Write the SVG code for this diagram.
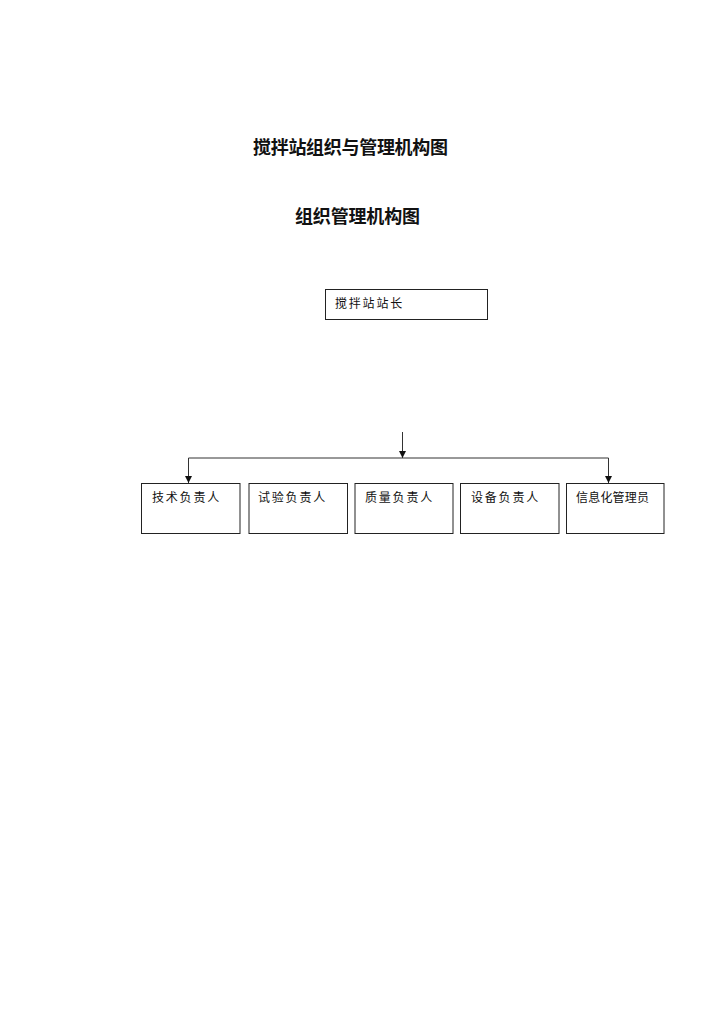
<svg xmlns="http://www.w3.org/2000/svg" width="720" height="1017" viewBox="0 0 720 1017">
<style>
.title{font-family:"Noto Sans CJK SC","Noto Sans",sans-serif;font-weight:bold;font-size:18px;fill:#111}
.lbl{font-family:"Noto Sans CJK SC","Noto Sans",sans-serif;font-size:12px;letter-spacing:1.8px;fill:#111}
.tight{letter-spacing:0.2px}
.box{fill:#fff;stroke:#222;stroke-width:1}
.conn{fill:none;stroke:#333;stroke-width:1}
</style>
<defs>
<marker id="arr" viewBox="0 0 10 10" refX="10" refY="5" markerWidth="7" markerHeight="7" markerUnits="userSpaceOnUse" orient="auto">
<path d="M0,0 L10,5 L0,10 z" fill="#111"/>
</marker>
</defs>
<rect width="720" height="1017" fill="#fff"/>
<text class="title" x="253" y="154" textLength="195">搅拌站组织与管理机构图</text>
<text class="title" x="295" y="223" textLength="125">组织管理机构图</text>
<g id="n0"><rect class="box" x="325.5" y="289.5" width="162" height="30"/><text class="lbl" x="335" y="308">搅拌站站长</text></g>
<g id="n1"><rect class="box" x="141.5" y="483.5" width="98.5" height="50"/><text class="lbl" x="152" y="502">技术负责人</text></g>
<g id="n2"><rect class="box" x="249" y="483.5" width="98.5" height="50"/><text class="lbl" x="258" y="502">试验负责人</text></g>
<g id="n3"><rect class="box" x="355" y="483.5" width="98" height="50"/><text class="lbl" x="365" y="502">质量负责人</text></g>
<g id="n4"><rect class="box" x="460.5" y="483.5" width="98.5" height="50"/><text class="lbl" x="471" y="502">设备负责人</text></g>
<g id="n5"><rect class="box" x="566.5" y="483.5" width="97.5" height="50"/><text class="lbl tight" x="576" y="502">信息化管理员</text></g>
<g id="connectors">
<line class="conn" x1="402.5" y1="432" x2="402.5" y2="458" marker-end="url(#arr)"/>
<polyline class="conn" points="188.5,483 188.5,458 608.5,458 608.5,483"/>
<line class="conn" x1="188.5" y1="470" x2="188.5" y2="483" marker-end="url(#arr)"/>
<line class="conn" x1="608.5" y1="470" x2="608.5" y2="483" marker-end="url(#arr)"/>
</g>
</svg>
